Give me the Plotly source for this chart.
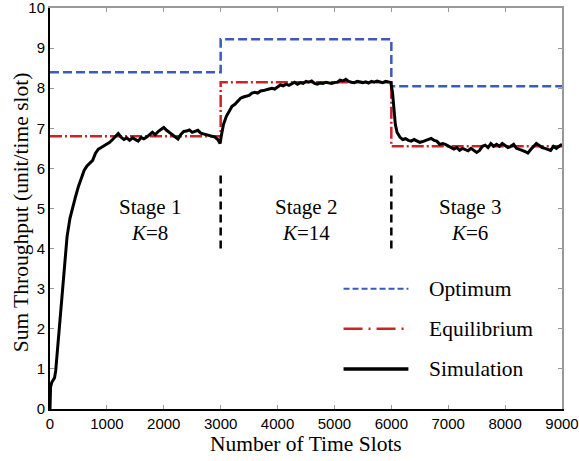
import plotly.graph_objects as go

# Stage boundaries and the per-stage reference levels
stage_x = [0, 3000, 6000, 9000]
optimum_y = [8.40, 9.22, 8.05, 8.05]
equilibrium_y = [6.80, 8.15, 6.55, 6.55]

# Simulated sum throughput (time slot, value)
sim_x = [0, 10, 30, 60, 80, 100, 130, 160, 190, 220, 260, 300, 350, 400, 450,
         500, 550, 600, 650, 700, 750, 800, 850, 900, 950, 1000, 1050, 1100,
         1150, 1200, 1250, 1300, 1350, 1400, 1450, 1500, 1550, 1600, 1650, 1700,
         1750, 1800, 1850, 1900, 1950, 2000, 2050, 2100, 2150, 2200, 2250, 2300,
         2350, 2400, 2450, 2500, 2550, 2600, 2650, 2700, 2750, 2800, 2850, 2900,
         2950, 2990, 3010, 3050, 3100, 3150, 3200, 3250, 3300, 3350, 3400, 3450,
         3500, 3550, 3600, 3650, 3700, 3750, 3800, 3850, 3900, 3950, 4000, 4050,
         4100, 4150, 4200, 4250, 4300, 4350, 4400, 4450, 4500, 4550, 4600, 4650,
         4700, 4750, 4800, 4850, 4900, 4950, 5000, 5050, 5100, 5150, 5200, 5250,
         5300, 5350, 5400, 5450, 5500, 5550, 5600, 5650, 5700, 5750, 5800, 5850,
         5900, 5950, 5990, 6020, 6040, 6070, 6100, 6150, 6200, 6250, 6300, 6350,
         6400, 6450, 6500, 6550, 6600, 6650, 6700, 6750, 6800, 6850, 6900, 6950,
         7000, 7050, 7100, 7150, 7200, 7250, 7300, 7350, 7400, 7450, 7500, 7550,
         7600, 7650, 7700, 7750, 7800, 7850, 7900, 7950, 8000, 8050, 8100, 8150,
         8200, 8250, 8300, 8350, 8400, 8450, 8500, 8550, 8600, 8650, 8700, 8750,
         8800, 8850, 8900, 8950, 9000]
sim_y = [0.00, 0.55, 0.66, 0.72, 0.78, 0.95, 1.45, 1.95, 2.60, 3.15, 3.70, 4.30, 4.75, 5.05, 5.30,
         5.55, 5.75, 5.95, 6.06, 6.12, 6.20, 6.38, 6.48, 6.52, 6.56, 6.60, 6.65, 6.72,
         6.80, 6.87, 6.78, 6.72, 6.76, 6.70, 6.76, 6.72, 6.68, 6.77, 6.74, 6.78,
         6.85, 6.90, 6.84, 6.92, 6.97, 7.02, 6.95, 6.90, 6.85, 6.78, 6.73, 6.85,
         6.92, 6.93, 6.96, 6.90, 6.92, 6.95, 6.88, 6.86, 6.84, 6.82, 6.80, 6.78,
         6.72, 6.62, 6.80, 7.10, 7.30, 7.42, 7.55, 7.60, 7.68, 7.75, 7.78, 7.80,
         7.82, 7.88, 7.90, 7.88, 7.93, 7.94, 7.97, 7.98, 8.00, 7.98, 8.03, 8.08,
         8.06, 8.10, 8.07, 8.12, 8.15, 8.10, 8.14, 8.12, 8.17, 8.15, 8.18, 8.12,
         8.10, 8.13, 8.12, 8.15, 8.13, 8.12, 8.14, 8.15, 8.20, 8.18, 8.22, 8.17,
         8.15, 8.14, 8.17, 8.15, 8.14, 8.16, 8.13, 8.17, 8.15, 8.18, 8.16, 8.14,
         8.17, 8.15, 8.14, 7.90, 7.60, 7.10, 6.90, 6.78, 6.72, 6.74, 6.70, 6.68,
         6.72, 6.69, 6.65, 6.67, 6.70, 6.72, 6.75, 6.70, 6.68, 6.60, 6.62, 6.60,
         6.56, 6.50, 6.48, 6.52, 6.45, 6.50, 6.47, 6.44, 6.50, 6.46, 6.40, 6.45,
         6.55, 6.58, 6.52, 6.62, 6.55, 6.60, 6.55, 6.62, 6.58, 6.52, 6.55, 6.60,
         6.50, 6.48, 6.45, 6.42, 6.38, 6.47, 6.55, 6.62, 6.57, 6.52, 6.50, 6.48,
         6.45, 6.55, 6.50, 6.55, 6.60]

# Stage annotations
stage_names = ["Stage 1", "Stage 2", "Stage 3"]
stage_k = ["8", "14", "6"]
stage_label_x = [1750, 4500, 7375]

legend_names = ["Optimum", "Equilibrium", "Simulation"]
legend_y = [3.0, 2.0, 1.0]

X_TITLE = "Number of Time Slots"
Y_TITLE = "Sum Throughput (unit/time slot)"

X_MAX, Y_MAX = 9000, 10
BLUE = "#3a5cb8"
RED = "#cc2229"
SERIF = "Liberation Serif, Times New Roman, serif"
SANS = "Liberation Sans, Arial, sans-serif"

fig = go.Figure()

fig.add_trace(go.Scatter(
    x=stage_x, y=optimum_y, mode="lines", line_shape="hv",
    line=dict(color=BLUE, width=2.5, dash="9px,4px"), showlegend=False,
))
fig.add_trace(go.Scatter(
    x=stage_x, y=equilibrium_y, mode="lines", line_shape="hv",
    line=dict(color=RED, width=2.5, dash="12px,3px,2px,3px"), showlegend=False,
))
fig.add_trace(go.Scatter(
    x=sim_x, y=sim_y, mode="lines",
    line=dict(color="black", width=3), showlegend=False,
))
# invisible trace so the mirrored top/right frame axes get drawn
fig.add_trace(go.Scatter(
    x=[0], y=[0], xaxis="x2", yaxis="y2", mode="markers",
    marker=dict(opacity=0), showlegend=False, hoverinfo="skip",
))

# Stage separators
for xb in stage_x[1:3]:
    fig.add_shape(type="line", x0=xb, x1=xb, y0=4.0, y1=5.85, xref="x", yref="y",
                  line=dict(color="black", width=2.5, dash="8px,5px"))

# Stage labels
for xs, name, k in zip(stage_label_x, stage_names, stage_k):
    fig.add_annotation(x=xs, y=5.05, text=name, showarrow=False,
                       font=dict(family=SERIF, size=21, color="black"))
    fig.add_annotation(x=xs, y=4.38, text=f"<i>K</i>={k}", showarrow=False,
                       font=dict(family=SERIF, size=21, color="black"))

# Legend drawn as keyed line samples
legend_styles = [
    dict(color=BLUE, width=2, dash="6px,3px"),
    dict(color=RED, width=2.5, dash="19px,6px,2px,6px"),
    dict(color="black", width=3.5),
]
for ly, name, st in zip(legend_y, legend_names, legend_styles):
    fig.add_shape(type="line", x0=5160, x1=6300, y0=ly, y1=ly, xref="x", yref="y",
                  line=st)
    fig.add_annotation(x=6620, y=ly, text=name, showarrow=False, xanchor="left",
                       font=dict(family=SERIF, size=21.5, color="black"))

# Axis titles
fig.add_annotation(x=0.5, y=-0.087, xref="paper", yref="paper", text=X_TITLE,
                   showarrow=False, xanchor="center", yanchor="middle",
                   font=dict(family=SERIF, size=21.5, color="black"))
fig.add_annotation(x=-0.057, y=0.49, xref="paper", yref="paper", text=Y_TITLE,
                   showarrow=False, xanchor="center", yanchor="middle", textangle=-90,
                   font=dict(family=SERIF, size=21.5, color="black"))

axis_common = dict(showgrid=False, zeroline=False, ticks="inside", ticklen=4,
                   tickcolor="#999999", tickwidth=1, automargin=False)

fig.update_layout(
    width=579, height=461,
    margin=dict(l=50, r=17, t=8, b=52),
    paper_bgcolor="white", plot_bgcolor="white",
    xaxis=dict(range=[0, X_MAX], dtick=1000, tick0=0, showline=True,
               linecolor="black", linewidth=2, ticklabeloverflow="allow",
               tickfont=dict(family=SANS, size=15, color="black"),
               **axis_common),
    yaxis=dict(range=[0, Y_MAX], dtick=1, tick0=0, showline=True,
               linecolor="black", linewidth=2, ticklabeloverflow="allow",
               tickfont=dict(family=SANS, size=15, color="black"),
               **axis_common),
    xaxis2=dict(range=[0, X_MAX], dtick=1000, overlaying="x", side="top",
                showline=True, linecolor="#999999", linewidth=1.5,
                showticklabels=False, **axis_common),
    yaxis2=dict(range=[0, Y_MAX], dtick=1, overlaying="y", side="right",
                showline=True, linecolor="#999999", linewidth=1.5,
                showticklabels=False, **axis_common),
)

fig.write_html("out.html")
